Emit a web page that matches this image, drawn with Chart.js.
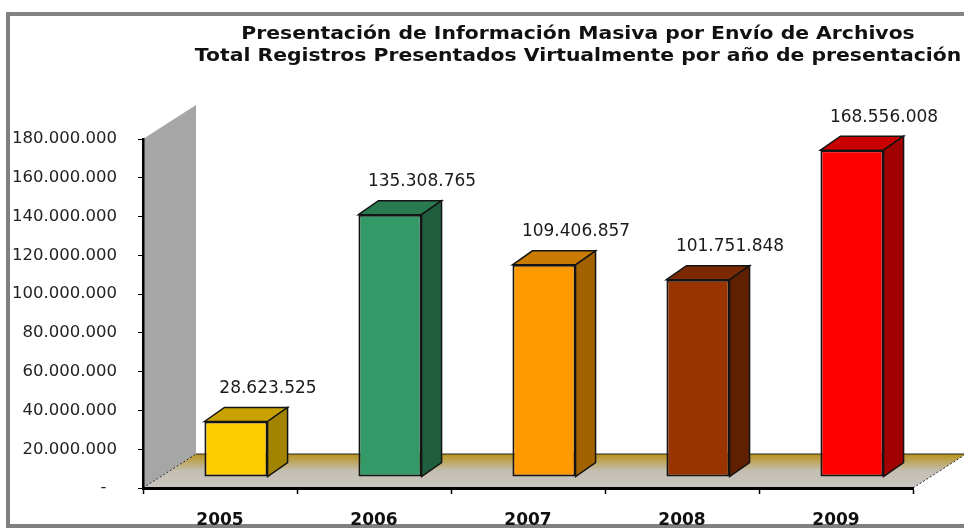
<!DOCTYPE html>
<html>
<head>
<meta charset="utf-8">
<script src="https://cdn.jsdelivr.net/npm/chart.js@4.4.0/dist/chart.umd.min.js"></script>
<style>
    html, body { margin: 0; padding: 0; background: #fff; overflow: hidden; }
    body { width: 964px; height: 528px; position: relative; }
    #header { position: absolute; left: 0; top: -19px; width: 974px; text-align: center; font: bold 20px "DejaVu Sans"; color: #111; }
    #frameTop { position: absolute; left: 6px; top: 12px; width: 958px; height: 4px; background: #848484; }
    #frameLeft { position: absolute; left: 6px; top: 12px; width: 4px; height: 516px; background: #808080; }
    #frameBottom { position: absolute; left: 6px; top: 524px; width: 958px; height: 4px; background: #808080; }
    #chart { position: absolute; left: 0; top: 0; }
</style>
</head>
<body>
<div id="header">Gráfica 10.</div>
<div id="frameTop"></div>
<div id="frameLeft"></div>
<div id="frameBottom"></div>
<canvas id="chart" width="964" height="528"></canvas>
<script>
// Data
const years = ['2005', '2006', '2007', '2008', '2009'];
const registros = [28623525, 135308765, 109406857, 101751848, 168556008];
const yMax = 180000000;
const yStep = 20000000;
const titleLines = [
    'Presentación de Información Masiva por Envío de Archivos',
    'Total Registros Presentados Virtualmente por año de presentación'
];

// Face colours per bar: front, top, side
const frontColors = ['#ffcc00', '#339966', '#ff9900', '#993300', '#ff0000'];
const topColors = ['#c9a200', '#2a7a50', '#c97a00', '#7a2900', '#c80000'];
const sideColors = ['#a38400', '#1f5e3f', '#a36200', '#5e2000', '#a00000'];

// 3D offsets in px
const barShift = { x: 16, y: -11 };
const barDepth = { x: 20, y: -14 };
const floorDepth = { x: 53, y: -34 };

function formatNumber(v) {
    if (v === 0) return '-  ';
    return String(Math.round(v)).replace(/\B(?=(\d{3})+(?!\d))/g, '.');
}

function poly(ctx, pts, fill, stroke, lw) {
    ctx.beginPath();
    ctx.moveTo(pts[0][0], pts[0][1]);
    for (let i = 1; i < pts.length; i++) ctx.lineTo(pts[i][0], pts[i][1]);
    ctx.closePath();
    if (fill) { ctx.fillStyle = fill; ctx.fill(); }
    if (stroke) { ctx.strokeStyle = stroke; ctx.lineWidth = lw; ctx.stroke(); }
}

// Wall, floor, bar faces, value labels and title
const scene3d = {
    id: 'scene3d',
    beforeDraw(chart) {
        const { ctx, chartArea: a } = chart;
        const fx = floorDepth.x, fy = floorDepth.y;
        ctx.save();
        poly(ctx, [[a.left, a.bottom], [a.left, a.top], [a.left + fx, a.top + fy], [a.left + fx, a.bottom + fy]], '#a6a6a6');

        const g = ctx.createLinearGradient(0, a.bottom + fy, 0, a.bottom);
        g.addColorStop(0, '#b8921a');
        g.addColorStop(0.5, '#c4bfb3');
        g.addColorStop(1, '#c9c6c2');
        poly(ctx, [[a.left, a.bottom], [a.left + fx, a.bottom + fy], [a.right + fx, a.bottom + fy], [a.right, a.bottom]], g);

        ctx.strokeStyle = '#222';
        ctx.lineWidth = 1;
        ctx.beginPath();
        ctx.moveTo(a.left + fx, a.bottom + fy);
        ctx.lineTo(a.right + fx, a.bottom + fy);
        ctx.stroke();
        ctx.setLineDash([2, 2]);
        ctx.beginPath();
        ctx.moveTo(a.left, a.bottom);
        ctx.lineTo(a.left + fx, a.bottom + fy);
        ctx.moveTo(a.right, a.bottom);
        ctx.lineTo(a.right + fx, a.bottom + fy);
        ctx.stroke();
        ctx.restore();

        // title, centred over the back plane, stretched like the original
        ctx.save();
        ctx.font = 'bold 18px "DejaVu Sans"';
        ctx.fillStyle = '#111';
        ctx.textAlign = 'center';
        ctx.textBaseline = 'middle';
        const cx = (a.left + a.right) / 2 + fx - 3;
        titleLines.forEach((t, i) => {
            ctx.save();
            ctx.translate(cx, 34 + i * 22);
            ctx.scale(1.13, 1);
            ctx.fillText(t, 0, 0);
            ctx.restore();
        });
        ctx.restore();
    },
    beforeDatasetsDraw(chart) {
        chart.ctx.save();
        chart.ctx.translate(barShift.x, barShift.y);
    },
    afterDatasetsDraw(chart) {
        const ctx = chart.ctx;
        const meta = chart.getDatasetMeta(0);
        const dx = barDepth.x, dy = barDepth.y;
        meta.data.forEach((bar, i) => {
            const { x, y, base, width } = bar.getProps(['x', 'y', 'base', 'width'], true);
            const l = x - width / 2, r = x + width / 2;
            poly(ctx, [[l, y], [l + dx, y + dy], [r + dx, y + dy], [r, y]], topColors[i], '#141414', 1.5);
            poly(ctx, [[r, y], [r + dx, y + dy], [r + dx, base + dy], [r, base]], sideColors[i], '#141414', 1.5);
        });
        ctx.restore();

        ctx.save();
        ctx.font = '17px "DejaVu Sans"';
        ctx.fillStyle = '#1a1a1a';
        ctx.textAlign = 'center';
        ctx.textBaseline = 'middle';
        meta.data.forEach((bar, i) => {
            ctx.fillText(formatNumber(registros[i]), bar.x + barShift.x + 32, bar.y + barShift.y - 33);
        });
        ctx.restore();
    }
};

const ctx = document.getElementById('chart').getContext('2d');
const chart = new Chart(ctx, {
    type: 'bar',
    data: {
        labels: years,
        datasets: [{
            data: registros,
            backgroundColor: frontColors,
            borderColor: '#141414',
            borderWidth: 2,
            borderSkipped: false,
            barPercentage: 0.41,
            categoryPercentage: 1
        }]
    },
    options: {
        responsive: false,
        animation: false,
        layout: { padding: { top: 139, right: 51, left: 0, bottom: 0 } },
        plugins: {
            legend: { display: false },
            tooltip: { enabled: false },
            title: { display: false }
        },
        scales: {
            x: {
                grid: { drawOnChartArea: false, tickLength: 6, tickColor: '#000', tickWidth: 1.5, offset: true },
                border: { color: '#000', width: 3 },
                ticks: { font: { family: 'DejaVu Sans', size: 17, weight: 'bold' }, color: '#111', padding: 16 },
                afterFit(scale) { scale.height = 40; }
            },
            y: {
                min: 0,
                max: yMax,
                grid: { drawOnChartArea: false, tickLength: 5, tickColor: '#000' },
                border: { color: '#000', width: 2.5 },
                ticks: {
                    stepSize: yStep,
                    callback: (v) => formatNumber(v),
                    font: { family: 'DejaVu Sans', size: 16.5 },
                    color: '#222',
                    padding: 21
                },
                afterFit(scale) { scale.width = 143; }
            }
        }
    },
    plugins: [scene3d]
});
</script>
</body>
</html>
